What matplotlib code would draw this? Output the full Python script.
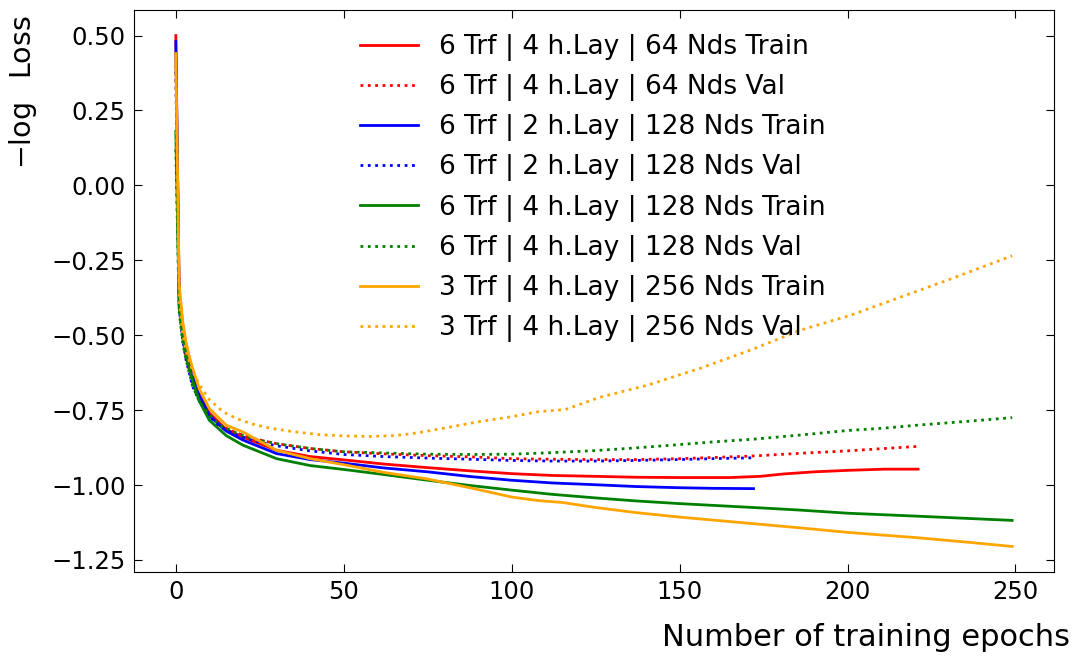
import numpy as np
import matplotlib; matplotlib.use("Agg")
import matplotlib.pyplot as plt

# epochs / -log loss values
red_tr_ep = [0, 1, 2, 3, 4, 5, 7, 10, 15, 20, 30, 40, 50, 62, 75, 88, 100, 112, 125, 137, 150, 165, 174, 181, 190, 200, 211, 221]
red_tr = [0.50, -0.35, -0.46, -0.53, -0.58, -0.62, -0.69, -0.76, -0.815, -0.84, -0.884, -0.905, -0.916, -0.93, -0.942,
          -0.953, -0.962, -0.968, -0.971, -0.974, -0.975, -0.975, -0.971, -0.963, -0.956, -0.951, -0.947, -0.947]
red_va_ep = [0, 1, 2, 3, 5, 7, 10, 13, 18, 23, 30, 40, 50, 62, 75, 88, 100, 112, 125, 137, 150, 160, 172, 186, 200, 211, 221]
red_va = [0.40, -0.40, -0.50, -0.57, -0.66, -0.71, -0.765, -0.80, -0.826, -0.845, -0.862, -0.878, -0.889, -0.896, -0.902,
          -0.906, -0.912, -0.914, -0.915, -0.915, -0.912, -0.908, -0.903, -0.894, -0.886, -0.878, -0.871]

blue_tr_ep = [0, 1, 2, 3, 4, 5, 7, 10, 15, 20, 30, 40, 50, 62, 75, 88, 100, 112, 125, 137, 150, 160, 172]
blue_tr = [0.48, -0.36, -0.47, -0.54, -0.59, -0.63, -0.70, -0.769, -0.82, -0.85, -0.895, -0.915, -0.927, -0.943, -0.956,
           -0.972, -0.984, -0.993, -0.999, -1.005, -1.009, -1.011, -1.012]
blue_va_ep = [0, 1, 2, 3, 5, 7, 10, 13, 18, 23, 30, 40, 50, 62, 75, 88, 100, 112, 125, 137, 150, 160, 172]
blue_va = [0.38, -0.41, -0.51, -0.58, -0.67, -0.72, -0.77, -0.805, -0.832, -0.852, -0.869, -0.886, -0.898, -0.905, -0.91,
           -0.914, -0.918, -0.92, -0.92, -0.918, -0.915, -0.912, -0.909]

green_tr_ep = [0, 1, 2, 3, 4, 5, 7, 10, 15, 20, 30, 40, 50, 62, 75, 88, 100, 112, 125, 137, 150, 172, 185, 200, 221, 235, 249]
green_tr = [0.18, -0.40, -0.50, -0.56, -0.61, -0.65, -0.72, -0.784, -0.835, -0.867, -0.912, -0.935, -0.948, -0.965, -0.984,
            -1.002, -1.017, -1.031, -1.043, -1.053, -1.062, -1.075, -1.083, -1.094, -1.104, -1.111, -1.118]
green_va_ep = [0, 1, 2, 3, 5, 7, 10, 13, 18, 23, 30, 40, 50, 62, 75, 88, 100, 112, 125, 137, 150, 160, 172, 186, 200, 211,
               221, 235, 249]
green_va = [0.12, -0.42, -0.52, -0.58, -0.67, -0.72, -0.765, -0.80, -0.826, -0.845, -0.862, -0.878, -0.889, -0.893, -0.897,
            -0.898, -0.897, -0.892, -0.885, -0.876, -0.865, -0.856, -0.847, -0.833, -0.818, -0.81, -0.80, -0.788, -0.775]

orange_tr_ep = [0, 1, 2, 3, 4, 5, 7, 10, 15, 20, 30, 40, 50, 62, 75, 88, 100, 108, 115, 125, 137, 150, 172, 185, 200, 221,
                235, 249]
orange_tr = [0.44, -0.33, -0.45, -0.52, -0.57, -0.61, -0.68, -0.745, -0.80, -0.823, -0.884, -0.912, -0.932, -0.958, -0.98,
             -1.01, -1.04, -1.052, -1.058, -1.075, -1.092, -1.107, -1.129, -1.142, -1.158, -1.176, -1.19, -1.205]
orange_va_ep = [0, 1, 2, 3, 5, 7, 10, 14, 18, 23, 28, 35, 43, 50, 58, 65, 70, 75, 80, 90, 100, 108, 116, 126, 141, 150, 156,
                171, 186, 201, 216, 231, 249]
orange_va = [0.40, -0.38, -0.49, -0.55, -0.62, -0.665, -0.715, -0.755, -0.778, -0.797, -0.81, -0.822, -0.832, -0.836,
             -0.838, -0.835, -0.829, -0.82, -0.81, -0.789, -0.772, -0.755, -0.748, -0.708, -0.665, -0.632, -0.611, -0.55,
             -0.483, -0.433, -0.372, -0.311, -0.235]

series = [
    (red_tr_ep, red_tr, "red", "-", "6 Trf | 4 h.Lay | 64 Nds Train"),
    (red_va_ep, red_va, "red", ":", "6 Trf | 4 h.Lay | 64 Nds Val"),
    (blue_tr_ep, blue_tr, "blue", "-", "6 Trf | 2 h.Lay | 128 Nds Train"),
    (blue_va_ep, blue_va, "blue", ":", "6 Trf | 2 h.Lay | 128 Nds Val"),
    (green_tr_ep, green_tr, "green", "-", "6 Trf | 4 h.Lay | 128 Nds Train"),
    (green_va_ep, green_va, "green", ":", "6 Trf | 4 h.Lay | 128 Nds Val"),
    (orange_tr_ep, orange_tr, "orange", "-", "3 Trf | 4 h.Lay | 256 Nds Train"),
    (orange_va_ep, orange_va, "orange", ":", "3 Trf | 4 h.Lay | 256 Nds Val"),
]

fig = plt.figure(figsize=(10.77, 6.59), dpi=100)
ax = fig.add_axes([0.1244, 0.132, 0.8542, 0.8528])
for ep, v, c, ls, lab in series:
    ax.plot(ep, v, color=c, ls=ls, lw=2, label=lab)

ax.tick_params(direction="in", top=True, right=True, labelsize=17.5, length=6, pad=6)
ax.set_xlabel("Number of training epochs", fontsize=22, ha="right")
ax.xaxis.set_label_coords(1.017, -0.09)
ax.set_ylabel(r"$-\log$  Loss", fontsize=20.5, loc="top")
ax.yaxis.set_label_coords(-0.103, 0.99)
ax.legend(loc="upper left", bbox_to_anchor=(0.22, 1.0), frameon=False, fontsize=19,
          labelspacing=0.5, handlelength=2.2)
fig.savefig("out.png", dpi=100)
